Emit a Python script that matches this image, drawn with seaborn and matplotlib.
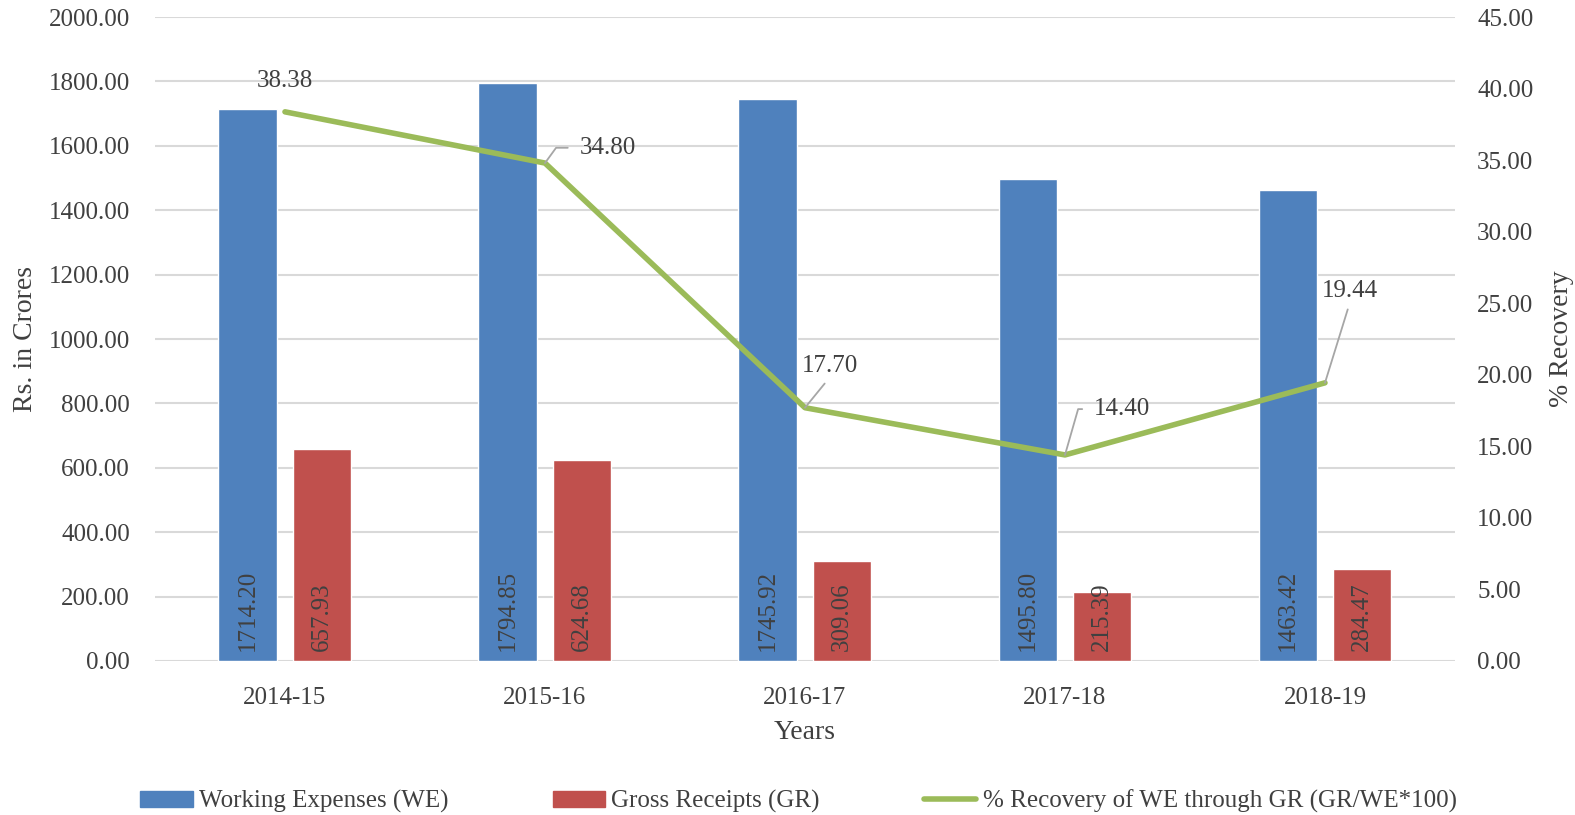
import matplotlib
matplotlib.use("Agg")
import matplotlib.pyplot as plt
import seaborn as sns
import pandas as pd
import numpy as np
from matplotlib.patches import Patch
from matplotlib.lines import Line2D

years = ["2014-15", "2015-16", "2016-17", "2017-18", "2018-19"]
working_expenses = [1714.20, 1794.85, 1745.92, 1495.80, 1463.42]
gross_receipts = [657.93, 624.68, 309.06, 215.39, 284.47]
recovery_pct = [38.38, 34.80, 17.70, 14.40, 19.44]

left_ticks = [0, 200, 400, 600, 800, 1000, 1200, 1400, 1600, 1800, 2000]
right_ticks = [0, 5, 10, 15, 20, 25, 30, 35, 40, 45]

sns.set_theme(style="white")
plt.rcParams['font.family'] = ['Liberation Serif', 'DejaVu Serif']

BLUE = "#4F81BD"
RED = "#C0504D"
GREEN = "#9BBB59"
TXT = "#404040"
GRID = "#d9d9d9"
LEAD = "#a6a6a6"
FS = 18

df = pd.DataFrame({
    "Year": years * 2,
    "Value": working_expenses + gross_receipts,
    "Series": ["Working Expenses (WE)"] * 5 + ["Gross Receipts (GR)"] * 5,
})

fig = plt.figure(figsize=(15.75, 8.15), dpi=100)
ax = fig.add_axes([0.0984, 0.189, 0.8254, 0.790])

sns.barplot(data=df, x="Year", y="Value", hue="Series", palette=[BLUE, RED],
            ax=ax, width=0.573, gap=0.215, legend=False, saturation=1)

ax.set_ylim(0, 2000)
ax.set_xlim(-0.5, 4.5)
ax.set_yticks(left_ticks)
ax.set_yticklabels([f"{v:.2f}" for v in left_ticks], fontsize=FS, color=TXT)
ax.tick_params(axis='y', length=0, pad=18)
ax.tick_params(axis='x', length=0, pad=19, labelsize=FS, labelcolor=TXT)
ax.yaxis.grid(True, color=GRID, linewidth=1.5)
ax.set_axisbelow(True)
for s in ax.spines.values():
    s.set_visible(False)
ax.set_xlabel("Years", fontsize=FS + 2, color=TXT, labelpad=8)
ax.set_ylabel("Rs. in Crores", fontsize=FS + 2, color=TXT, labelpad=8)
ax.patch.set_alpha(0)

# bar labels (inside base)
for cont, vals in zip(ax.containers, [working_expenses, gross_receipts]):
    for rect, v in zip(cont, vals):
        cx = rect.get_x() + rect.get_width() / 2
        ax.annotate(f"{v:.2f}", (cx, 0), xytext=(0, 7), textcoords="offset points",
                    rotation=90, ha="center", va="bottom", fontsize=FS, color=TXT)

ax2 = ax.twinx()
sns.lineplot(x=np.arange(len(years)), y=recovery_pct, ax=ax2, color=GREEN,
             linewidth=4, legend=False)
ax2.set_ylim(0, 45)
ax2.set_yticks(right_ticks)
ax2.set_yticklabels([f"{v:.2f}" for v in right_ticks], fontsize=FS, color=TXT)
ax2.tick_params(axis='y', length=0, pad=16)
for s in ax2.spines.values():
    s.set_visible(False)
ax2.set_ylabel("% Recovery", fontsize=FS + 2, color=TXT, rotation=90, labelpad=11)
ax2.grid(False)

# line labels: (dx, dy) in points, leader style
lbl_specs = [
    (0, 22, None),
    (45, 11, "elbow54"),
    (18, 30, "straight"),
    (41, 33, "elbow74"),
    (18, 66, "straight"),
]
for i, (v, (dx, dy, lead)) in enumerate(zip(recovery_pct, lbl_specs)):
    kw = dict(textcoords="offset points", ha="center", va="center",
              fontsize=FS, color=TXT)
    if lead is None:
        ax2.annotate(f"{v:.2f}", (i, v), xytext=(dx, dy), **kw)
    elif lead == "straight":
        ax2.annotate(f"{v:.2f}", (i, v), xytext=(dx, dy), **kw,
                     arrowprops=dict(arrowstyle="-", color=LEAD, lw=1.3,
                                     shrinkA=3, shrinkB=0, relpos=(0.5, 0)))
    else:
        angB = float(lead.replace("elbow", ""))
        ax2.annotate(f"{v:.2f}", (i, v), xytext=(dx, dy), **kw,
                     arrowprops=dict(arrowstyle="-", color=LEAD, lw=1.3,
                                     shrinkA=6, shrinkB=0, relpos=(0, 0.5),
                                     connectionstyle=f"angle,angleA=0,angleB={angB},rad=0"))

# legend
handles = [Patch(facecolor=BLUE, edgecolor=BLUE), Patch(facecolor=RED, edgecolor=RED),
           Line2D([0], [0], color=GREEN, lw=4, solid_capstyle="round")]
labels = ["Working Expenses (WE)", "Gross Receipts (GR)",
          "% Recovery of WE through GR (GR/WE*100)"]
fig.legend(handles, labels, loc="lower center", bbox_to_anchor=(0.507, -0.025), ncol=3,
           frameon=False, fontsize=FS, labelcolor=TXT, handlelength=2.1,
           handleheight=0.6, handletextpad=0.25, columnspacing=4.16)

fig.savefig("out.png", dpi=100, facecolor="white")
